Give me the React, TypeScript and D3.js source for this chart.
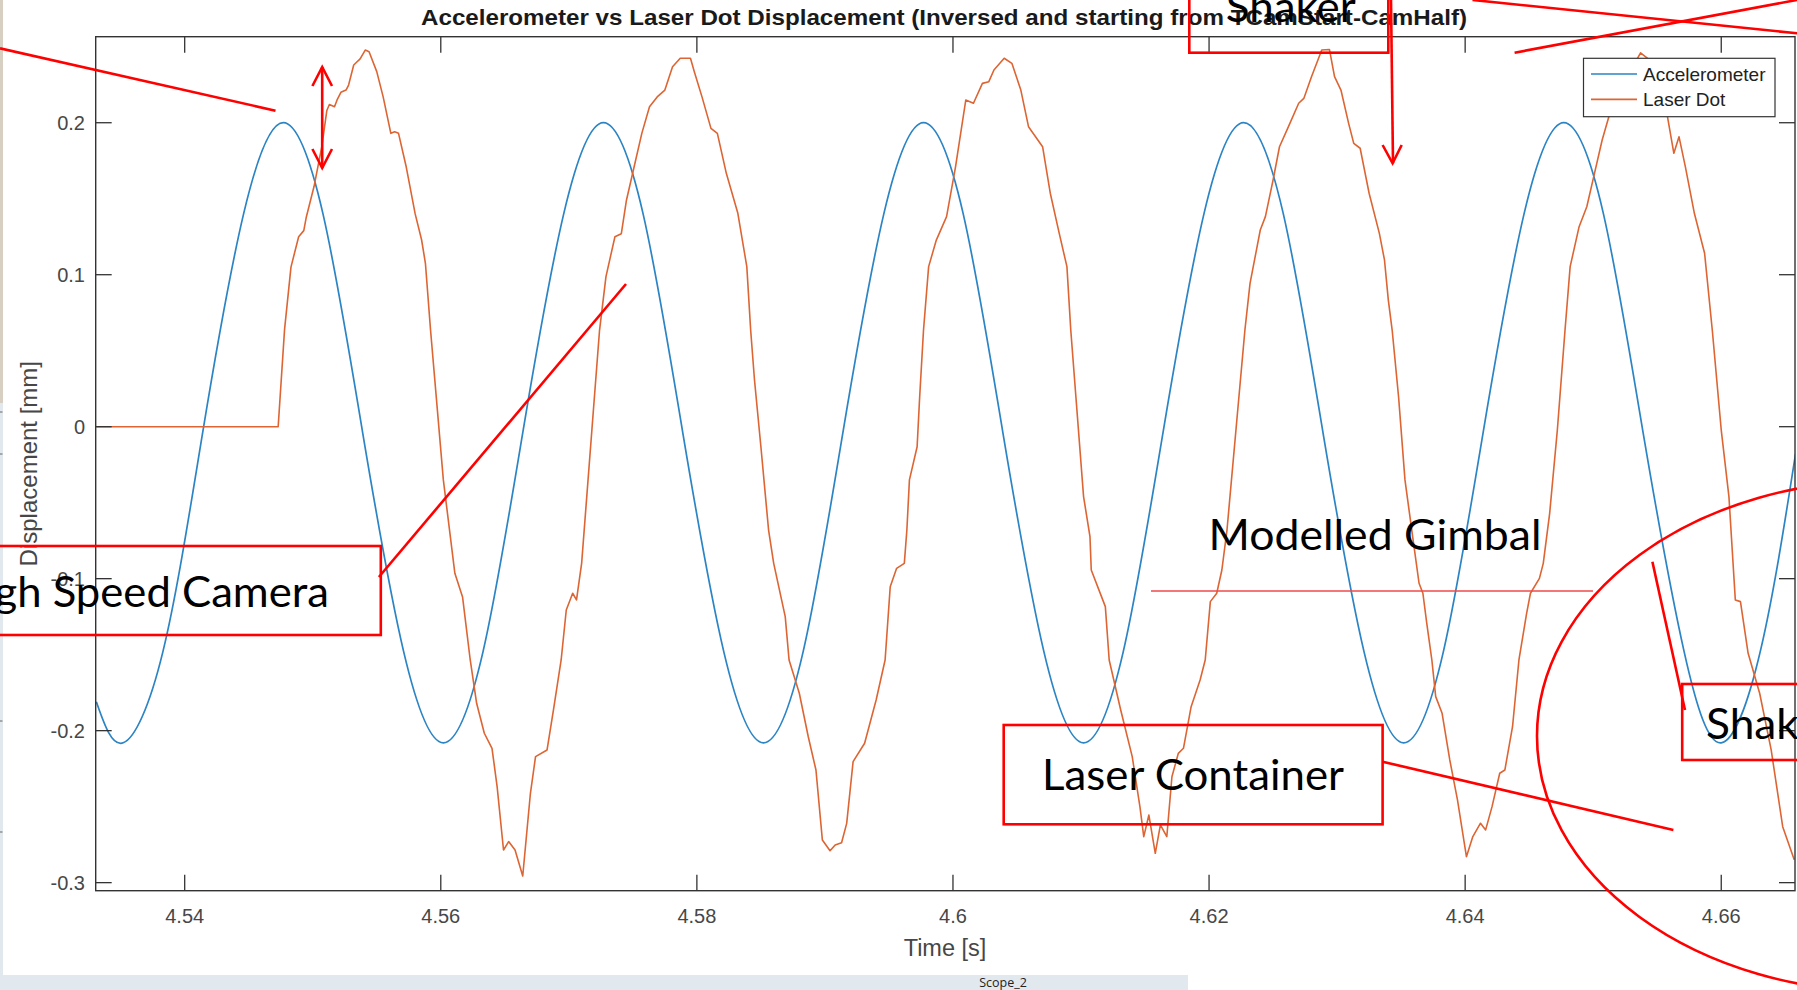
import React, { useEffect } from 'react';
import * as d3 from 'd3';

// ---------- data ----------
const xTicks = [4.54, 4.56, 4.58, 4.6, 4.62, 4.64, 4.66];
const xTickLabels = ['4.54', '4.56', '4.58', '4.6', '4.62', '4.64', '4.66'];
const yTicks = [-0.3, -0.2, -0.1, 0, 0.1, 0.2];
const yTickLabels = ['-0.3', '-0.2', '-0.1', '0', '0.1', '0.2'];
const seriesNames = ['Accelerometer', 'Laser Dot'];

const accelTime = [
  4.5331, 4.5352, 4.5383, 4.5414, 4.5446, 4.5477, 4.5508, 4.5539, 4.5571,
  4.5602, 4.5633, 4.5664, 4.5696, 4.5727, 4.5758, 4.5789, 4.5821,
  4.5852, 4.5883, 4.5914, 4.5946, 4.5977, 4.6008, 4.6039, 4.6071,
  4.6102, 4.6133, 4.6164, 4.6196, 4.6227, 4.6258, 4.6289, 4.6321,
  4.6352, 4.6383, 4.6414, 4.6446, 4.6477, 4.6508, 4.6539, 4.6571,
  4.6600, 4.6631, 4.6658,
];
const accelDisp = [
  -0.181, -0.208, -0.148, -0.004, 0.140, 0.200, 0.140, -0.004, -0.148,
  -0.208, -0.148, -0.004, 0.140, 0.200, 0.140, -0.004, -0.148,
  -0.208, -0.148, -0.004, 0.140, 0.200, 0.140, -0.004, -0.148,
  -0.208, -0.148, -0.004, 0.140, 0.200, 0.140, -0.004, -0.148,
  -0.208, -0.148, -0.004, 0.140, 0.200, 0.140, -0.004, -0.148,
  -0.208, -0.146, -0.018,
];

const laserTime = [
  4.5331, 4.5473, 4.5478, 4.5483, 4.5489, 4.5493, 4.5495, 4.5501, 4.5507, 4.5511,
  4.5513, 4.5517, 4.5519, 4.5522, 4.5526, 4.5528, 4.5532, 4.5537, 4.5541, 4.5544,
  4.5550, 4.5555, 4.5561, 4.5564, 4.5567, 4.5573, 4.5580, 4.5585, 4.5588, 4.5592,
  4.5602, 4.5611, 4.5617, 4.5623, 4.5628, 4.5634, 4.5640, 4.5644, 4.5649, 4.5653,
  4.5658, 4.5664, 4.5670, 4.5674, 4.5683, 4.5688, 4.5694, 4.5698, 4.5703, 4.5706,
  4.5710, 4.5718, 4.5724, 4.5729, 4.5736, 4.5741, 4.5745, 4.5751, 4.5757, 4.5763,
  4.5769, 4.5775, 4.5781, 4.5787, 4.5795, 4.5798, 4.5804, 4.5811, 4.5816, 4.5823,
  4.5832, 4.5839, 4.5842, 4.5845, 4.5850, 4.5856, 4.5860, 4.5869, 4.5872, 4.5880,
  4.5887, 4.5893, 4.5898, 4.5904, 4.5908, 4.5913, 4.5917, 4.5922, 4.5931, 4.5940,
  4.5947, 4.5951, 4.5956, 4.5962, 4.5964, 4.5966, 4.5972, 4.5974, 4.5977, 4.5981,
  4.5987, 4.5995, 4.6002, 4.6010, 4.6016, 4.6023, 4.6028, 4.6032, 4.6040, 4.6046,
  4.6053, 4.6059, 4.6070, 4.6076, 4.6083, 4.6089, 4.6092, 4.6096, 4.6102, 4.6107,
  4.6108, 4.6116, 4.6119, 4.6122, 4.6131, 4.6140, 4.6146, 4.6149, 4.6153, 4.6158,
  4.6162, 4.6167, 4.6171, 4.6176, 4.6180, 4.6186, 4.6193, 4.6197, 4.6201, 4.6206,
  4.6210, 4.6214, 4.6221, 4.6228, 4.6232, 4.6240, 4.6244, 4.6250, 4.6255, 4.6262,
  4.6270, 4.6274, 4.6280, 4.6288, 4.6294, 4.6298, 4.6303, 4.6309, 4.6313, 4.6318,
  4.6325, 4.6333, 4.6337, 4.6340, 4.6343, 4.6348, 4.6353, 4.6359, 4.6364, 4.6367,
  4.6370, 4.6374, 4.6377, 4.6382, 4.6388, 4.6394, 4.6401, 4.6406, 4.6412, 4.6416,
  4.6421, 4.6427, 4.6431, 4.6437, 4.6442, 4.6448, 4.6451, 4.6458, 4.6461, 4.6466,
  4.6472, 4.6478, 4.6482, 4.6489, 4.6495, 4.6501, 4.6507, 4.6513, 4.6525, 4.6537,
  4.6546, 4.6552, 4.6558, 4.6563, 4.6567, 4.6572, 4.6579, 4.6587, 4.6593, 4.6600,
  4.6606, 4.6611, 4.6615, 4.6621, 4.6630, 4.6639, 4.6648, 4.6657,
];
const laserDisp = [
  0, 0, 0.064, 0.105, 0.125, 0.129, 0.138, 0.158, 0.184, 0.208,
  0.212, 0.2105, 0.215, 0.220, 0.2215, 0.2248, 0.238, 0.242, 0.2478, 0.2467,
  0.2336, 0.217, 0.193, 0.194, 0.193, 0.171, 0.140, 0.123, 0.1075, 0.0636,
  -0.035, -0.0965, -0.112, -0.1535, -0.182, -0.2017, -0.2116, -0.2368, -0.2785, -0.273,
  -0.2785, -0.2956, -0.2412, -0.2171, -0.2127, -0.1864, -0.1535, -0.1206, -0.1096, -0.114,
  -0.0899, -0.0022, 0.0636, 0.0987, 0.125, 0.127, 0.149, 0.171, 0.193, 0.2105,
  0.217, 0.2215, 0.2368, 0.2424, 0.2424, 0.2336, 0.217, 0.1963, 0.193, 0.1667,
  0.1404, 0.1053, 0.0636, 0.0307, -0.0132, -0.068, -0.0899, -0.125, -0.1535, -0.1754,
  -0.204, -0.2259, -0.2719, -0.279, -0.2752, -0.2737, -0.261, -0.2204, -0.2083, -0.1798,
  -0.1535, -0.1053, -0.0932, -0.0899, -0.068, -0.035, -0.0132, 0.0197, 0.0636, 0.1053,
  0.1228, 0.1382, 0.171, 0.2149, 0.2128, 0.2259, 0.227, 0.2347, 0.2424, 0.2391,
  0.2215, 0.1974, 0.1842, 0.1536, 0.1272, 0.1053, 0.0636, 0.0197, -0.046, -0.0724,
  -0.0943, -0.1118, -0.1184, -0.1535, -0.1864, -0.2171, -0.25, -0.2697, -0.2555, -0.2807,
  -0.262, -0.2697, -0.2303, -0.2149, -0.2116, -0.1842, -0.1667, -0.1535, -0.1151, -0.1096,
  -0.0943, -0.068, -0.0022, 0.0636, 0.0943, 0.1294, 0.1382, 0.1623, 0.1842, 0.1974,
  0.2128, 0.216, 0.2303, 0.2478, 0.2482, 0.2303, 0.2215, 0.1996, 0.1864, 0.1832,
  0.1536, 0.1272, 0.1097, 0.0833, 0.0636, 0.0197, -0.035, -0.0724, -0.103, -0.1096,
  -0.1293, -0.1535, -0.1776, -0.1886, -0.2193, -0.2456, -0.2829, -0.2697, -0.2609, -0.2653,
  -0.25, -0.228, -0.2259, -0.1974, -0.1535, -0.1228, -0.1096, -0.0998, -0.0899, -0.057,
  -0.0022, 0.0636, 0.1053, 0.1316, 0.1447, 0.1667, 0.1886, 0.2062, 0.228, 0.246,
  0.240, 0.222, 0.204, 0.1799, 0.1908, 0.171, 0.1404, 0.1141, 0.0636, -0.0022,
  -0.046, -0.114, -0.1151, -0.1491, -0.1754, -0.2127, -0.2632, -0.285,
];

// ---------- layout ----------
const W = 1797;
const H = 990;
const PL = 95.7, PR = 1795, PT = 36.7, PB = 890.7;
const BLUE = '#2b84c4';
const ORANGE = '#dd6533';
const RED = '#ff0000';
const AX = '#333333';
const TICKTXT = '#474747';
const ANN_FONT = 'Lato, "Liberation Sans", sans-serif';
const AX_FONT = '"Liberation Sans", Arial, Helvetica, sans-serif';

export default function App() {
  useEffect(() => {
    document.body.style.margin = '0';
    document.body.style.overflow = 'hidden';
  }, []);

  const x = d3.scaleLinear().domain([4.53305, 4.66576]).range([PL, PR]);
  const y = d3.scaleLinear().domain([-0.3053, 0.2566]).range([PB, PT]);

  const accelPts: [number, number][] = accelTime.map((t, i) => [t, accelDisp[i]]);
  const laserPts: [number, number][] = laserTime.map((t, i) => [t, laserDisp[i]]);

  const accelLine = d3
    .line<[number, number]>()
    .x((d) => x(d[0]))
    .y((d) => y(d[1]))
    .curve(d3.curveNatural);
  const laserLine = d3
    .line<[number, number]>()
    .x((d) => x(d[0]))
    .y((d) => y(d[1]))
    .curve(d3.curveLinear);

  const tickLen = 16;

  const redLine = (x1: number, y1: number, x2: number, y2: number, key: string, sw = 2.6, col = RED) => (
    <line key={key} x1={x1} y1={y1} x2={x2} y2={y2} stroke={col} strokeWidth={sw} />
  );

  return (
    <svg
      width={W}
      height={H}
      viewBox={`0 0 ${W} ${H}`}
      style={{ position: 'absolute', left: 0, top: 0, display: 'block', background: '#ffffff' }}
    >
      <defs>
        <clipPath id="plotClip">
          <rect x={PL} y={PT} width={PR - PL} height={PB - PT} />
        </clipPath>
      </defs>
      <rect x={0} y={0} width={W} height={H} fill="#ffffff" />

      {/* screenshot margins */}
      <rect x={0} y={0} width={3} height={403} fill="#d6cfc2" />
      <rect x={0} y={403} width={3} height={587} fill="#e2e9ee" />
      <rect x={0} y={975} width={1188} height={15} fill="#e2e9ee" />
      <line x1={0} y1={412} x2={2.5} y2={412} stroke="#666" strokeWidth={1} />
      <line x1={0} y1={454} x2={2.5} y2={454} stroke="#666" strokeWidth={1} />
      <line x1={0} y1={721} x2={2.5} y2={721} stroke="#666" strokeWidth={1} />
      <line x1={0} y1={832} x2={2.5} y2={832} stroke="#666" strokeWidth={1} />
      <text x={1003} y={986.5} fontFamily='"Open Sans", "Liberation Sans", sans-serif' fontSize={12.5} fill="#222" textAnchor="middle">
        Scope_2
      </text>

      {/* title */}
      <text
        x={421}
        y={25}
        fontFamily={AX_FONT}
        fontWeight="bold"
        fontSize={21.5}
        fill="#1a1a1a"
        textLength={1046}
        lengthAdjust="spacingAndGlyphs"
      >
        Accelerometer vs Laser Dot Displacement (Inversed and starting from TCamStart-CamHalf)
      </text>

      {/* data */}
      <g clipPath="url(#plotClip)">
        <path d={accelLine(accelPts) || ''} fill="none" stroke={BLUE} strokeWidth={1.7} />
        <path d={laserLine(laserPts) || ''} fill="none" stroke={ORANGE} strokeWidth={1.6} strokeLinejoin="round" />
      </g>

      {/* axes box */}
      <rect x={PL} y={PT} width={PR - PL} height={PB - PT} fill="none" stroke={AX} strokeWidth={1.4} />
      {xTicks.map((t, i) => (
        <g key={'xt' + i}>
          <line x1={x(t)} x2={x(t)} y1={PB} y2={PB - tickLen} stroke={AX} strokeWidth={1.3} />
          <line x1={x(t)} x2={x(t)} y1={PT} y2={PT + tickLen} stroke={AX} strokeWidth={1.3} />
          <text x={x(t)} y={923} fontFamily={AX_FONT} fontSize={20} fill={TICKTXT} textAnchor="middle">
            {xTickLabels[i]}
          </text>
        </g>
      ))}
      {yTicks.map((v, i) => (
        <g key={'yt' + i}>
          <line x1={PL} x2={PL + tickLen} y1={y(v)} y2={y(v)} stroke={AX} strokeWidth={1.3} />
          <line x1={PR} x2={PR - tickLen} y1={y(v)} y2={y(v)} stroke={AX} strokeWidth={1.3} />
          <text x={85} y={y(v)} dy="0.35em" fontFamily={AX_FONT} fontSize={20} fill={TICKTXT} textAnchor="end">
            {yTickLabels[i]}
          </text>
        </g>
      ))}
      <text x={945} y={956} fontFamily={AX_FONT} fontSize={23.5} fill={TICKTXT} textAnchor="middle">
        Time [s]
      </text>
      <text
        transform={`translate(37, ${(PT + PB) / 2}) rotate(-90)`}
        fontFamily={AX_FONT}
        fontSize={24}
        fill={TICKTXT}
        textAnchor="middle"
      >
        Displacement [mm]
      </text>

      {/* legend */}
      <g>
        <rect x={1583.5} y={58.3} width={191.5} height={58.4} fill="#ffffff" stroke={AX} strokeWidth={1.2} />
        <line x1={1591} x2={1637} y1={74} y2={74} stroke={BLUE} strokeWidth={1.7} />
        <line x1={1591} x2={1637} y1={99.3} y2={99.3} stroke={ORANGE} strokeWidth={1.7} />
        <text x={1643} y={74} dy="0.35em" fontFamily={AX_FONT} fontSize={19} fill="#222">
          {seriesNames[0]}
        </text>
        <text x={1643} y={99.3} dy="0.35em" fontFamily={AX_FONT} fontSize={19} fill="#222">
          {seriesNames[1]}
        </text>
      </g>

      {/* annotations (overlaid drawing) */}
      <g fill="none">
        {redLine(0, 48.3, 275.5, 110.7, 'a1')}
        {/* double headed arrow */}
        {redLine(322.2, 67, 322.2, 168, 'a2')}
        <polyline points="312.4,86 322.2,67 332,86" stroke={RED} strokeWidth={2.6} fill="none" />
        <polyline points="312.4,149 322.2,168 332,149" stroke={RED} strokeWidth={2.6} fill="none" />

        {/* High Speed Camera */}
        <rect x={-10} y={546} width={390.8} height={89} stroke={RED} strokeWidth={2.6} />
        {redLine(378.9, 577, 626, 284, 'a3')}

        {/* Laser Container */}
        <rect x={1003.7} y={725} width={378.9} height={99.3} stroke={RED} strokeWidth={2.6} />
        {redLine(1382.6, 761.7, 1673.4, 830, 'a4')}

        {/* Modelled Gimbal line */}
        {redLine(1151, 591, 1593, 591, 'a5', 1.3, '#f04a4a')}

        {/* big ellipse */}
        <ellipse cx={1887} cy={736} rx={350} ry={256} stroke={RED} strokeWidth={2.6} />

        {/* Shaker bottom box */}
        <rect x={1682.2} y={684} width={140} height={76} stroke={RED} strokeWidth={2.6} />
        {redLine(1652.4, 561.7, 1685, 710, 'a6')}

        {/* Shaker top box */}
        <rect x={1189.3} y={-10} width={199} height={62.7} stroke={RED} strokeWidth={2.6} />
        {redLine(1391, 0, 1393, 163.3, 'a7')}
        <polyline points="1382.6,145 1392.6,163.3 1401.7,145" stroke={RED} strokeWidth={2.6} fill="none" />

        {/* crossing lines top right */}
        {redLine(1472.5, 0, 1800, 33.6, 'a8')}
        {redLine(1514.6, 52.7, 1800, -0.6, 'a9')}
      </g>

      <g fontFamily={ANN_FONT} fontSize={43} fill="#000">
        <text x={-49} y={607} textLength={378} lengthAdjust="spacingAndGlyphs">
          High Speed Camera
        </text>
        <text x={1042} y={790} textLength={302} lengthAdjust="spacingAndGlyphs">
          Laser Container
        </text>
        <text x={1208.5} y={550} textLength={333} lengthAdjust="spacingAndGlyphs">
          Modelled Gimbal
        </text>
        <text x={1225.7} y={21.7} textLength={130} lengthAdjust="spacingAndGlyphs">
          Shaker
        </text>
        <text x={1706} y={739.3} textLength={131} lengthAdjust="spacingAndGlyphs">
          Shaker
        </text>
      </g>
    </svg>
  );
}
